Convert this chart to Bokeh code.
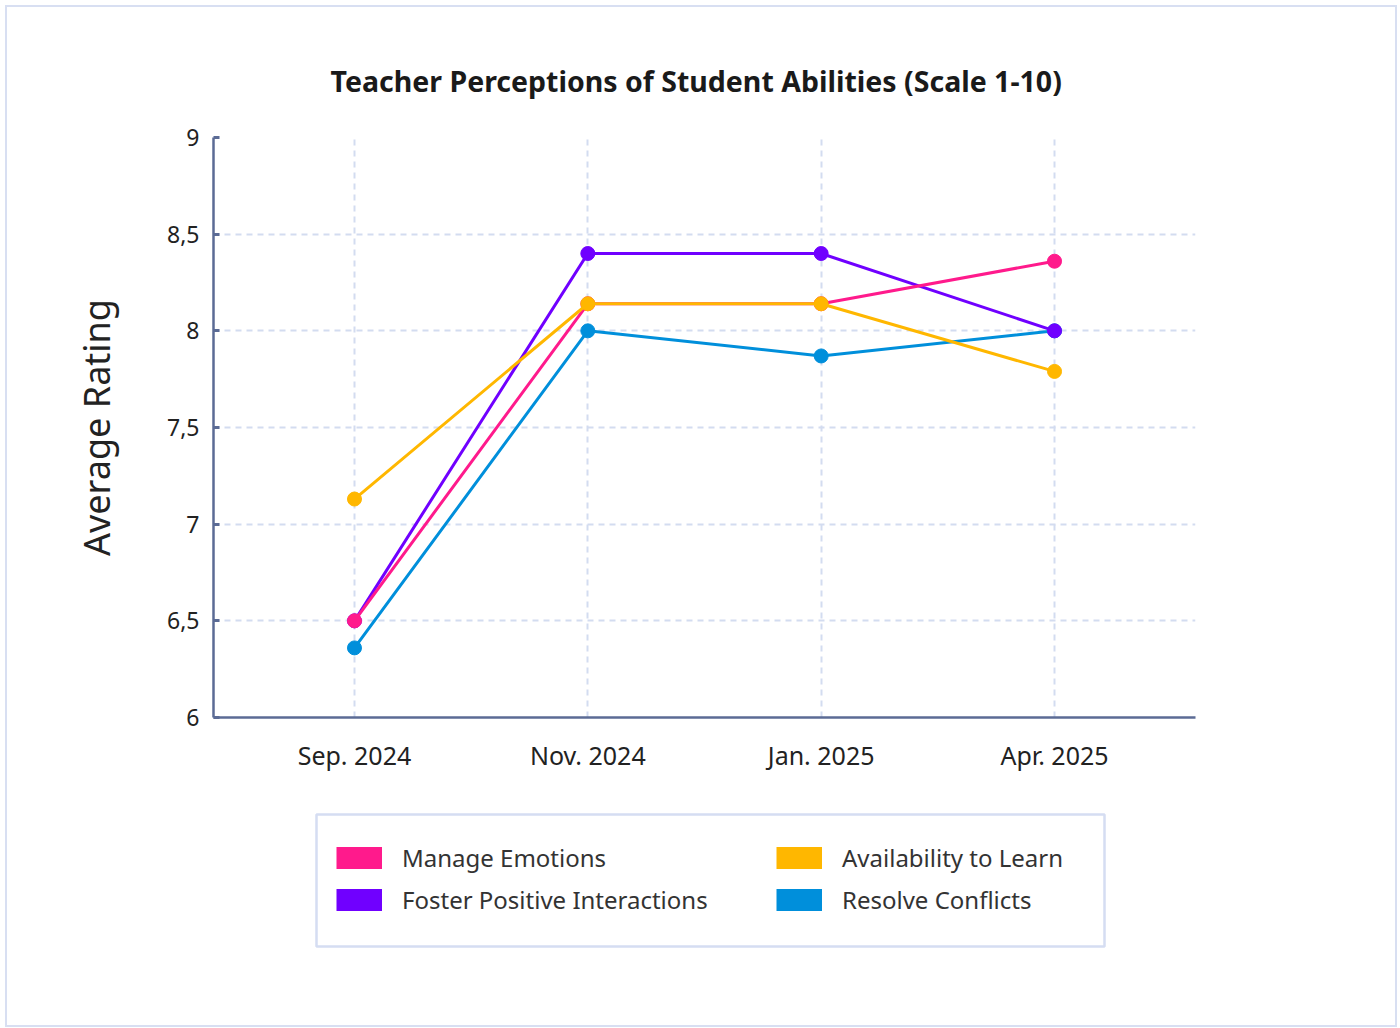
from bokeh.plotting import figure
from bokeh.layouts import column
from bokeh.models import (Range1d, FactorRange, FixedTicker, Legend, LegendItem,
                          BoxAnnotation)
from bokeh.core.properties import value
from bokeh.embed import file_html
from bokeh.resources import INLINE

# ---- data ----
months = ["Sep. 2024", "Nov. 2024", "Jan. 2025", "Apr. 2025"]
manage_emotions = [6.5, 8.14, 8.14, 8.36]
foster_interactions = [6.5, 8.4, 8.4, 8.0]
availability_to_learn = [7.13, 8.14, 8.14, 7.79]
resolve_conflicts = [6.36, 8.0, 7.87, 8.0]
series_names = ["Manage Emotions", "Foster Positive Interactions",
                "Availability to Learn", "Resolve Conflicts"]
series_colors = ["#ff1a8c", "#7000ff", "#ffb700", "#008fdb"]
y_ticks = [6, 6.5, 7, 7.5, 8, 8.5, 9]
y_tick_labels = ["6", "6,5", "7", "7,5", "8", "8,5", "9"]

series_values = [manage_emotions, foster_interactions,
                 availability_to_learn, resolve_conflicts]

FONT = "Noto Sans"
AXIS_COLOR = "#5b6b95"
GRID_COLOR = "#d3dcf0"
TEXT_COLOR = "#222222"
W = 1388
H_TOP = 783
H_LEG = 235
BORDER_L, BORDER_R = 206, 200

p = figure(width=W, height=H_TOP,
           x_range=FactorRange(factors=months, range_padding=0.0521),
           y_range=Range1d(6, 9),
           output_backend="svg", toolbar_location=None,
           min_border_left=BORDER_L, min_border_right=BORDER_R,
           min_border_top=130, min_border_bottom=73)
p.outline_line_color = None
p.background_fill_color = "white"
p.border_fill_color = "white"

# title
p.title.text = "Teacher Perceptions of Student Abilities (Scale 1-10)"
p.title.align = "left"
p.title.offset = 117
p.title.text_font = FONT
p.title.text_font_size = "28.5px"
p.title.text_font_style = "bold"
p.title.text_color = "#1a1a1a"
p.title.standoff = 75

# axes
yax = p.yaxis[0]
yax.ticker = FixedTicker(ticks=y_ticks)
yax.major_label_overrides = dict(zip(y_ticks, y_tick_labels))
yax.axis_line_color = AXIS_COLOR
yax.axis_line_width = 2.5
yax.major_tick_line_color = AXIS_COLOR
yax.major_tick_line_width = 3
yax.major_tick_in = 6
yax.major_tick_out = 0
yax.minor_tick_line_color = None
yax.major_label_standoff = 14
yax.major_label_text_font = FONT
yax.major_label_text_font_size = "23px"
yax.major_label_text_color = TEXT_COLOR
yax.axis_label = "Average Rating"
yax.axis_label_text_font = FONT
yax.axis_label_text_font_size = "36px"
yax.axis_label_text_font_style = "normal"
yax.axis_label_text_color = TEXT_COLOR
yax.axis_label_standoff = 43

xax = p.xaxis[0]
xax.axis_line_color = AXIS_COLOR
xax.axis_line_width = 2.5
xax.major_tick_in = 0
xax.major_tick_out = 0
xax.minor_tick_line_color = None
xax.major_label_standoff = 20
xax.major_label_text_font = FONT
xax.major_label_text_font_size = "25px"
xax.major_label_text_color = TEXT_COLOR

# grids
p.ygrid[0].ticker = FixedTicker(ticks=y_ticks)
for g in (p.xgrid[0], p.ygrid[0]):
    g.grid_line_color = GRID_COLOR
    g.grid_line_width = 2
    g.grid_line_dash = "6 5"

# series (drawing order so overlaps match)
draw_order = [3, 1, 0, 2]
for i in draw_order:
    p.line(months, series_values[i], line_color=series_colors[i], line_width=3)
    p.scatter(months, series_values[i], size=14, fill_color=series_colors[i],
              line_color=series_colors[i], line_width=1)

# ---- legend panel (second figure; ranges in layout pixels) ----
p2 = figure(width=W, height=H_LEG,
            x_range=Range1d(BORDER_L, W - BORDER_R), y_range=Range1d(H_LEG, 0),
            output_backend="svg", toolbar_location=None,
            x_axis_location=None, y_axis_location=None,
            min_border=0, min_border_left=BORDER_L, min_border_right=BORDER_R,
            min_border_top=0, min_border_bottom=0)
p2.grid.visible = False
p2.outline_line_color = None
p2.background_fill_color = "white"
p2.border_fill_color = "white"

nan = float("nan")
swatches = []
for i in range(4):
    # legend-only renderer: a single missing point draws nothing on the canvas
    r = p2.line(x=[nan], y=[nan], line_color=series_colors[i], line_width=22,
                line_cap="butt")
    swatches.append(r)


def make_legend(idx, loc):
    lg = Legend(items=[LegendItem(label=value(series_names[k]), renderers=[swatches[k]])
                       for k in idx],
                location=loc, orientation="vertical",
                padding=0, margin=0, spacing=9,
                glyph_width=46, glyph_height=33, label_height=33,
                label_standoff=20,
                label_text_font=FONT, label_text_font_size="24px",
                label_text_color="#333333",
                border_line_color=None, background_fill_alpha=0)
    p2.add_layout(lg, "center")
    return lg


make_legend([0, 1], (123, 109))
make_legend([2, 3], (563, 109))

p2.add_layout(BoxAnnotation(left=309, right=1097, top=24, bottom=156,
                            fill_alpha=0, line_color="#d5ddf2", line_width=2.5,
                            line_alpha=1))

layout = column(p, p2, spacing=0,
                styles={"border": "2px solid #d8dff2", "margin": "5px 0px 0px 5px"})

open("out.html", "w").write(file_html(layout, INLINE))
